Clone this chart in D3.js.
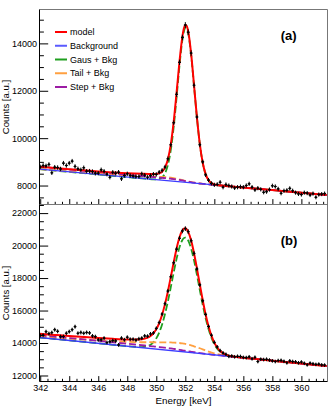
<!DOCTYPE html>
<html>
<head>
<meta charset="UTF-8">
<script src="https://d3js.org/d3.v7.min.js"></script>
<style>
  body { margin: 0; background: #fff; }
  svg text { font-family: "Liberation Sans", Arial, Helvetica, sans-serif; }
</style>
</head>
<body>
<script>
// histogram bins: 0.2 keV wide, first bin centred at 342.0 keV
var binStart = 342.0, binWidth = 0.2;

// measured counts, panel (a)
var countsA = [8790, 8847, 8830, 8890, 8538, 8775, 8760, 8700, 8944, 8847,
  8944, 9029, 8805, 8707, 8665, 8750, 8605, 8610, 8590, 8520,
  8520, 8665, 8600, 8480, 8351, 8560, 8520, 8563, 8284, 8424,
  8495, 8424, 8400, 8380, 8380, 8495, 8440, 8351, 8420, 8480,
  8470, 8563, 8640, 8780, 9130, 9720, 10650, 11850, 13200, 14250,
  14774, 14470, 13590, 12234, 10892, 9720, 9000, 8450, 8230, 8090,
  8030, 8050, 8140, 7928, 8042, 8000, 7960, 7900, 7930, 7950,
  7930, 8000, 8072, 7930, 7818, 7890, 7840, 7716, 7740, 7830,
  7990, 7960, 7860, 7674, 7780, 7800, 7880, 7780, 7700, 7648,
  7620, 7700, 7680, 7600, 7660, 7505, 7620, 7640, 7660];

// measured counts, panel (b)
var countsB = [14460, 14480, 14700, 14580, 14640, 14820, 14720, 14393, 14400, 14601,
  14700, 14820, 15006, 14600, 14650, 14600, 14650, 14620, 14436, 14393,
  14190, 14200, 14300, 14025, 14086, 14150, 14130, 13883, 14300, 14200,
  14356, 14233, 14233, 14180, 14260, 14300, 14436, 14420, 14559, 14620,
  14900, 15260, 15780, 16420, 17200, 18080, 18940, 19780, 20450, 20900,
  21043, 20860, 20300, 19520, 18560, 17580, 16600, 15760, 15020, 14480,
  14040, 13760, 13530, 13390, 13300, 13180, 13200, 13150, 13180, 13170,
  13110, 13100, 13150, 13030, 13120, 12859, 13000, 12980, 13000, 12950,
  12900, 12860, 12920, 12930, 12870, 12780, 12900, 12860, 12840, 12780,
  12830, 12750, 12657, 12760, 12720, 12680, 12700, 12650, 12640];

// fit curves, panel (a), sampled at gridA
var gridA = [341.95, 343, 344, 345, 346, 347, 348, 348.5, 349, 349.5, 349.8, 350, 350.2, 350.4, 350.6,
  350.8, 351, 351.2, 351.4, 351.6, 351.8, 351.9, 352, 352.1, 352.2, 352.4, 352.6, 352.8, 353,
  353.2, 353.4, 353.6, 353.8, 354, 354.3, 355, 357, 359, 361.75];
var modelA = [8795, 8740, 8689, 8641, 8595, 8554, 8519, 8507, 8497, 8489, 8486, 8490, 8512, 8582, 8756,
  9112, 9738, 10695, 11930, 13242, 14299, 14624, 14775, 14732, 14506, 13566, 12241, 10883, 9753,
  8962, 8481, 8226, 8104, 8048, 8013, 7972, 7862, 7752, 7600];
var gausA = [8690, 8632, 8577, 8522, 8467, 8412, 8357, 8329, 8302, 8274, 8262, 8260, 8278, 8344, 8514,
  8869, 9502, 10472, 11727, 13064, 14153, 14494, 14662, 14636, 14424, 13510, 12207, 10863, 9743,
  8957, 8479, 8225, 8104, 8048, 8013, 7972, 7862, 7752, 7600];
var tailA = [8695, 8640, 8589, 8541, 8495, 8454, 8419, 8407, 8397, 8389, 8382, 8377, 8370, 8363, 8356,
  8348, 8332, 8311, 8285, 8259, 8228, 8212, 8197, 8181, 8168, 8143, 8121, 8103, 8087,
  8073, 8061, 8049, 8038, 8027, 8010, 7972, 7862, 7752, 7600];
var stepA = [8790, 8732, 8677, 8622, 8567, 8512, 8457, 8429, 8402, 8374, 8358, 8347, 8336, 8325, 8314,
  8301, 8288, 8274, 8258, 8237, 8214, 8202, 8190, 8177, 8166, 8143, 8121, 8103, 8087,
  8074, 8061, 8050, 8038, 8027, 8010, 7972, 7862, 7752, 7600];

// fit curves, panel (b), sampled at gridB
var gridB = [341.95, 343, 344, 345, 346, 347, 348, 348.5, 349, 349.4, 349.6, 349.8, 350, 350.2, 350.4,
  350.6, 350.8, 351, 351.2, 351.4, 351.6, 351.8, 351.9, 352, 352.1, 352.2, 352.4, 352.6, 352.8,
  353, 353.2, 353.4, 353.6, 353.8, 354, 354.2, 354.4, 354.6, 354.8, 355, 355.3, 355.6, 356,
  358, 360, 361.75];
var modelB = [14570, 14497, 14428, 14367, 14310, 14261, 14222, 14213, 14233, 14328, 14433, 14600, 14855, 15230, 15741,
  16395, 17181, 18067, 18975, 19824, 20510, 20943, 21045, 21066, 20999, 20845, 20320, 19531, 18597,
  17601, 16633, 15760, 15028, 14455, 14024, 13721, 13513, 13375, 13287, 13225, 13169, 13131, 13091,
  12913, 12735, 12580];
var gausB = [14340, 14247, 14158, 14069, 13980, 13891, 13802, 13763, 13748, 13808, 13894, 14046, 14287, 14646, 15142,
  15784, 16561, 17438, 18345, 19194, 19891, 20343, 20458, 20491, 20440, 20308, 19820, 19087, 18202,
  17260, 16348, 15535, 14857, 14326, 13932, 13655, 13467, 13345, 13267, 13215, 13164, 13130, 13091,
  12913, 12735, 12580];
var tailB = [14420, 14347, 14278, 14217, 14160, 14111, 14072, 14058, 14048, 14048, 14050, 14047, 14044, 14045, 14044,
  14041, 14036, 14036, 14026, 14015, 14001, 13976, 13962, 13947, 13928, 13904, 13861, 13798, 13740,
  13678, 13610, 13537, 13469, 13412, 13359, 13316, 13278, 13245, 13218, 13190, 13158, 13128, 13091,
  12913, 12735, 12580];
var stepB = [14490, 14397, 14308, 14219, 14130, 14041, 13952, 13908, 13863, 13828, 13809, 13791, 13772, 13753, 13733,
  13712, 13690, 13665, 13640, 13615, 13582, 13552, 13537, 13522, 13507, 13491, 13461, 13432, 13405,
  13379, 13355, 13332, 13310, 13291, 13271, 13252, 13234, 13215, 13198, 13180, 13153, 13127, 13091,
  12913, 12735, 12580];

// linear background, end points
var bkgE = [341.95, 361.8];
var bkgA = [8690, 7598];
var bkgB = [14340, 12576];

var legendNames = ["model", "Background", "Gaus + Bkg", "Tail + Bkg", "Step + Bkg"];
var xTicks = [342, 344, 346, 348, 350, 352, 354, 356, 358, 360];

var colors = {
    model: "#ff0000", bkg: "#3c3cff", gaus: "#1f9f1f",
    tail: "#ffa040", step: "#9c1ca4"
};

var width = 331, height = 409;
var left = 39.5, right = 327.5;

var svg = d3.select("body").append("svg")
    .attr("width", width)
    .attr("height", height)
    .style("display", "block");

svg.append("rect").attr("width", width).attr("height", height).attr("fill", "#fff");

var x = d3.scaleLinear().domain([341.95, 361.8]).range([left, right]);

var panels = [
    { id: "a", top: 9.5, bottom: 204.5, domain: [7200, 15430], counts: countsA,
      grid: gridA, model: modelA, gaus: gausA, tail: tailA, step: stepA, bkg: bkgA,
      labelY: 39.5, showX: false },
    { id: "b", top: 204.5, bottom: 381.5, domain: [11630, 22530], counts: countsB,
      grid: gridB, model: modelB, gaus: gausB, tail: tailB, step: stepB, bkg: bkgB,
      labelY: 244.5, showX: true }
];

panels.forEach(function (p) {
    var y = d3.scaleLinear().domain(p.domain).range([p.bottom, p.top]);
    var g = svg.append("g");

    g.append("clipPath").attr("id", "clip" + p.id)
        .append("rect")
        .attr("x", left).attr("y", p.top)
        .attr("width", right - left).attr("height", p.bottom - p.top);

    var plot = g.append("g").attr("clip-path", "url(#clip" + p.id + ")");

    var line = d3.line()
        .x(function (d) { return x(d[0]); })
        .y(function (d) { return y(d[1]); })
        .curve(d3.curveMonotoneX);

    function pairs(vals) {
        return p.grid.map(function (e, i) { return [e, vals[i]]; });
    }

    // components first, then background, then model
    [["gaus", p.gaus], ["tail", p.tail], ["step", p.step]].forEach(function (c) {
        plot.append("path")
            .attr("d", line(pairs(c[1])))
            .attr("fill", "none")
            .attr("stroke", colors[c[0]])
            .attr("stroke-width", 1.8)
            .attr("stroke-dasharray", "7,3");
    });

    plot.append("path")
        .attr("d", line([[bkgE[0], p.bkg[0]], [bkgE[1], p.bkg[1]]]))
        .attr("fill", "none")
        .attr("stroke", colors.bkg)
        .attr("stroke-width", 1.3);

    plot.append("path")
        .attr("d", line(pairs(p.model)))
        .attr("fill", "none")
        .attr("stroke", colors.model)
        .attr("stroke-width", 2);

    // data points with error bars
    var pts = plot.selectAll(".pt")
        .data(p.counts)
        .enter().append("g")
        .attr("class", "pt");

    pts.append("line")
        .attr("x1", function (d, i) { return x(binStart + binWidth * i); })
        .attr("x2", function (d, i) { return x(binStart + binWidth * i); })
        .attr("y1", function (d) { return y(d - Math.sqrt(d)); })
        .attr("y2", function (d) { return y(d + Math.sqrt(d)); })
        .attr("stroke", "#000").attr("stroke-width", 1);

    pts.append("line")
        .attr("x1", function (d, i) { return x(binStart + binWidth * (i - 0.5)); })
        .attr("x2", function (d, i) { return x(binStart + binWidth * (i + 0.5)); })
        .attr("y1", function (d) { return y(d); })
        .attr("y2", function (d) { return y(d); })
        .attr("stroke", "#000").attr("stroke-width", 1);

    pts.append("circle")
        .attr("cx", function (d, i) { return x(binStart + binWidth * i); })
        .attr("cy", function (d) { return y(d); })
        .attr("r", 1.1)
        .attr("fill", "#000");

    // frame
    g.append("line").attr("x1", left).attr("x2", right).attr("y1", p.top).attr("y2", p.top)
        .attr("stroke", "#777").attr("stroke-width", 1);
    g.append("line").attr("x1", right).attr("x2", right).attr("y1", p.top).attr("y2", p.bottom)
        .attr("stroke", "#777").attr("stroke-width", 1);

    // y axis, ticks pointing inward
    var yMajor = d3.range(Math.ceil(p.domain[0] / 2000) * 2000, p.domain[1], 2000);
    var yMinor = d3.range(Math.ceil(p.domain[0] / 500) * 500, p.domain[1], 500)
        .filter(function (v) { return v % 2000 !== 0; });

    var yAxis = g.append("g").attr("transform", "translate(" + left + ",0)")
        .call(d3.axisLeft(y).tickValues(yMajor).tickSize(-8.7).tickPadding(2.5)
            .tickFormat(d3.format("d")));
    yAxis.append("g").call(d3.axisLeft(y).tickValues(yMinor).tickSize(-4.4).tickFormat(""))
        .select(".domain").remove();
    yAxis.select(".domain").attr("d", "M0," + p.top + "V" + p.bottom);
    yAxis.selectAll("text").attr("font-size", 9).attr("fill", "#000")
        .attr("font-family", "Liberation Sans, Arial, sans-serif");
    yAxis.selectAll("line, path").attr("stroke", "#000");

    // x axis
    var xMinor = d3.range(342.5, 361.8, 0.5).filter(function (v) { return v % 2 !== 0; });
    var xAxis = g.append("g").attr("transform", "translate(0," + p.bottom + ")")
        .call(d3.axisBottom(x).tickValues(xTicks).tickSize(-5.4).tickPadding(3.4)
            .tickFormat(p.showX ? d3.format("d") : ""));
    xAxis.append("g").call(d3.axisBottom(x).tickValues(xMinor).tickSize(-2.7).tickFormat(""))
        .select(".domain").remove();
    xAxis.select(".domain").attr("d", "M" + left + ",0H" + right);
    xAxis.selectAll("text").attr("font-size", 9).attr("fill", "#000")
        .attr("font-family", "Liberation Sans, Arial, sans-serif");
    xAxis.selectAll("line, path").attr("stroke", "#000");

    // axis title
    g.append("text")
        .attr("transform", "translate(9," + ((p.top + p.bottom) / 2) + ") rotate(-90)")
        .attr("text-anchor", "middle")
        .attr("font-size", 9.6)
        .text("Counts [a.u.]");

    // panel label
    g.append("text")
        .attr("x", 280.7).attr("y", p.labelY)
        .attr("font-size", 13).attr("font-weight", "bold")
        .text("(" + p.id + ")");
});

svg.append("text")
    .attr("x", (left + right) / 2).attr("y", 403.5)
    .attr("text-anchor", "middle")
    .attr("font-size", 9.8)
    .text("Energy [keV]");

// legend
var legendColors = [colors.model, "#5a5aff", colors.gaus, colors.tail, colors.step];
var legend = svg.selectAll(".legend")
    .data(legendNames)
    .enter().append("g")
    .attr("transform", function (d, i) { return "translate(55," + (32 + 13.75 * i) + ")"; });

legend.append("line")
    .attr("x1", 0).attr("x2", 12)
    .attr("stroke", function (d, i) { return legendColors[i]; })
    .attr("stroke-width", 2);

legend.append("text")
    .attr("x", 15).attr("dy", "0.35em")
    .attr("font-size", 9)
    .text(function (d) { return d; });
</script>
</body>
</html>
